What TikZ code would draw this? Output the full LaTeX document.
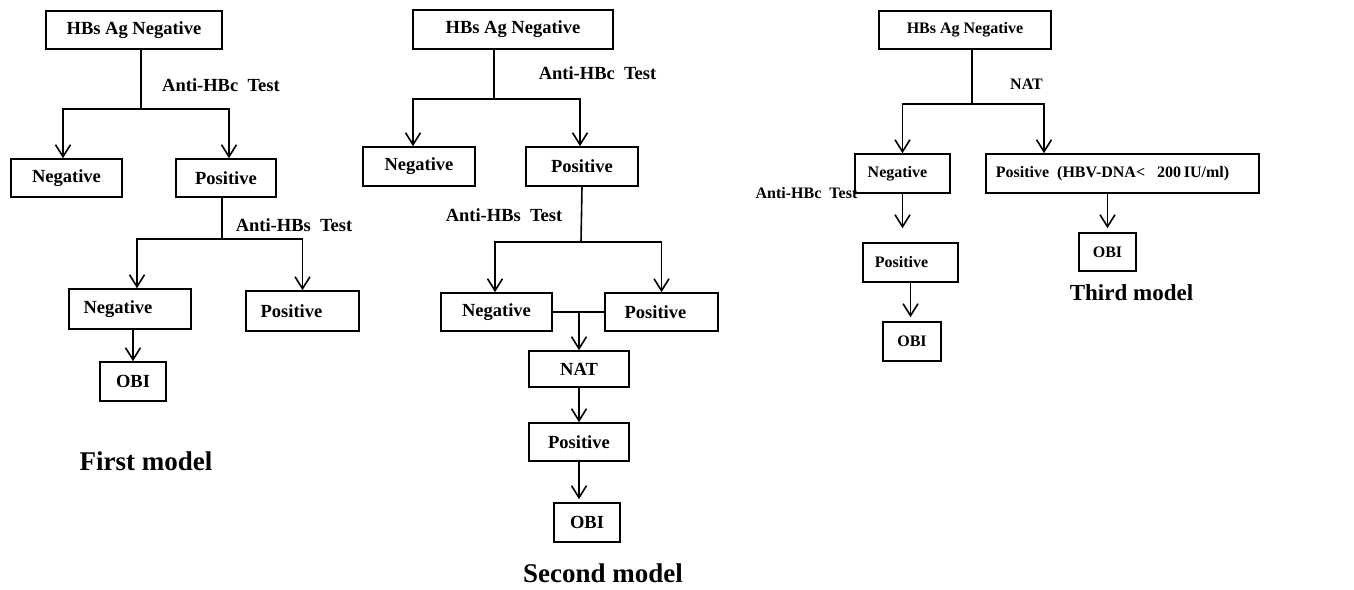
\documentclass[tikz,border=0pt]{standalone}
\usepackage{fontspec}
\setmainfont{Liberation Serif}
\usetikzlibrary{arrows.meta}
\begin{document}
\begin{tikzpicture}[x=1pt,y=-1pt,
  box/.style={draw, line width=1.6pt, inner sep=0pt, font=\bfseries\fontsize{18.5}{20}\selectfont},
  boxs/.style={box, font=\bfseries\fontsize{16}{18}\selectfont},
  wh/.style 2 args={minimum width=#1pt, minimum height=#2pt},
  lbl/.style={font=\bfseries\fontsize{18.5}{20}\selectfont, inner sep=0pt},
  lbls/.style={font=\bfseries\fontsize{16}{18}\selectfont, inner sep=0pt},
  ttl/.style={font=\bfseries\fontsize{27}{30}\selectfont, inner sep=0pt},
  ln/.style={line width=1.6pt},
  arr/.style={ln, -{Straight Barb[length=12pt,width=15pt,line width=1.6pt]}},
]
\useasboundingbox (0,0) rectangle (1354,589);

% ---------- First model ----------
\node[box, wh={176}{38}] (a1) at (134,30) {HBs Ag Negative};
\node[box, wh={111}{38}] (n1) at (66.5,178) {Negative};
\node[box, wh={100}{38}] (p1) at (226,178) {Positive};
\node[box, wh={122}{40}] (n1b) at (130,309) {\hspace*{-24pt}Negative};
\node[box, wh={113}{40}] (p1b) at (302.5,311) {\hspace*{-22pt}Positive};
\node[box, wh={66}{39}] (o1) at (133,381.5) {OBI};
\coordinate (j1) at (141,109);
\coordinate (j2) at (222,239);
\node[lbl] (l1) at (221,85) {Anti-HBc\ \ Test};
\node[lbl] (l2) at (294,225) {Anti-HBs\ \ Test};
\node[ttl] (t1) at (146,461) {First model};
\draw[ln] (a1.south -| j1) -- (j1);
\draw[arr] (j1) -| ([xshift=-3.5pt]n1.north);
\draw[arr] (j1) -| ([xshift=3pt]p1.north);
\draw[ln] (p1.south -| j2) -- (j2);
\draw[arr] (j2) -| ([xshift=7pt]n1b.north);
\draw[arr] (j2) -| (p1b.north);
\draw[arr] (n1b.south -| o1) -- (o1.north);

% ---------- Second model ----------
\node[box, wh={200}{39}] (a2) at (513,29.5) {HBs Ag Negative};
\node[box, wh={112}{39}] (n2) at (419,166.5) {Negative};
\node[box, wh={112}{39}] (p2) at (582,166.5) {Positive};
\node[box, wh={111}{38}] (n2b) at (496.5,312) {Negative};
\node[box, wh={113}{38}] (p2b) at (661.5,312) {\hspace*{-12pt}Positive};
\node[box, wh={100}{36}] (nat) at (579,369) {NAT};
\node[box, wh={100}{38}] (p2c) at (579,442) {Positive};
\node[box, wh={66}{39}] (o2) at (587,522.5) {OBI};
\coordinate (j3) at (494,99);
\coordinate (j4) at (581,242);
\node[lbl] (l3) at (597.5,73) {Anti-HBc\ \ Test};
\node[lbl] (l4) at (504,215) {Anti-HBs\ \ Test};
\node[ttl] (t2) at (603,573) {Second model};
\draw[ln] (a2.south -| j3) -- (j3);
\draw[arr] (j3) -| ([xshift=-6pt]n2.north);
\draw[arr] (j3) -| ([xshift=-2pt]p2.north);
\draw[ln] (p2.south) -- (j4);
\draw[arr] (j4) -| ([xshift=-1.5pt]n2b.north);
\draw[arr] (j4) -| (p2b.north);
\draw[ln] (n2b.east) -- (p2b.west);
\draw[arr] (nat.north |- n2b.east) -- (nat.north);
\draw[arr] (nat.south) -- (p2c.north);
\draw[arr, shorten >=3pt] (p2c.south) -- (p2c.south |- o2.north);

% ---------- Third model ----------
\node[boxs, wh={172}{38}] (a3) at (965,30) {HBs Ag Negative};
\node[boxs, wh={95}{39}] (n3) at (902.5,173.5) {\hspace*{-10pt}Negative};
\node[boxs, wh={273}{39}] (p3) at (1122.5,173.5) {\hspace*{-20pt}Positive\ \ (HBV-DNA<\ \ \ 200\,IU/ml)};
\node[boxs, wh={95}{39}] (p3b) at (910.5,262.5) {\hspace*{-18pt}Positive};
\node[boxs, wh={58}{39}] (o3) at (912,341.5) {OBI};
\node[boxs, wh={57}{38}] (o4) at (1107.5,252) {OBI};
\coordinate (j5) at (972,104);
\node[lbls] (l5) at (1026.5,84) {NAT};
\node[lbls] (l6) at (806.5,193) {Anti-HBc\ \ Test};
\node[font=\bfseries\fontsize{23}{26}\selectfont, inner sep=0pt] (t3) at (1131.5,293) {Third model};
\draw[ln] (a3.south -| j5) -- (j5);
\draw[arr] (j5) -| (n3.north);
\draw[arr] (j5) -| ([xshift=-78.5pt]p3.north);
\draw[arr, shorten >=14pt] (n3.south) -- (n3.south |- p3b.north);
\draw[arr, shorten >=4pt] (p3b.south) -- (p3b.south |- o3.north);
\draw[arr, shorten >=4pt] (o4.north |- p3.south) -- (o4.north);
\end{tikzpicture}
\end{document}
